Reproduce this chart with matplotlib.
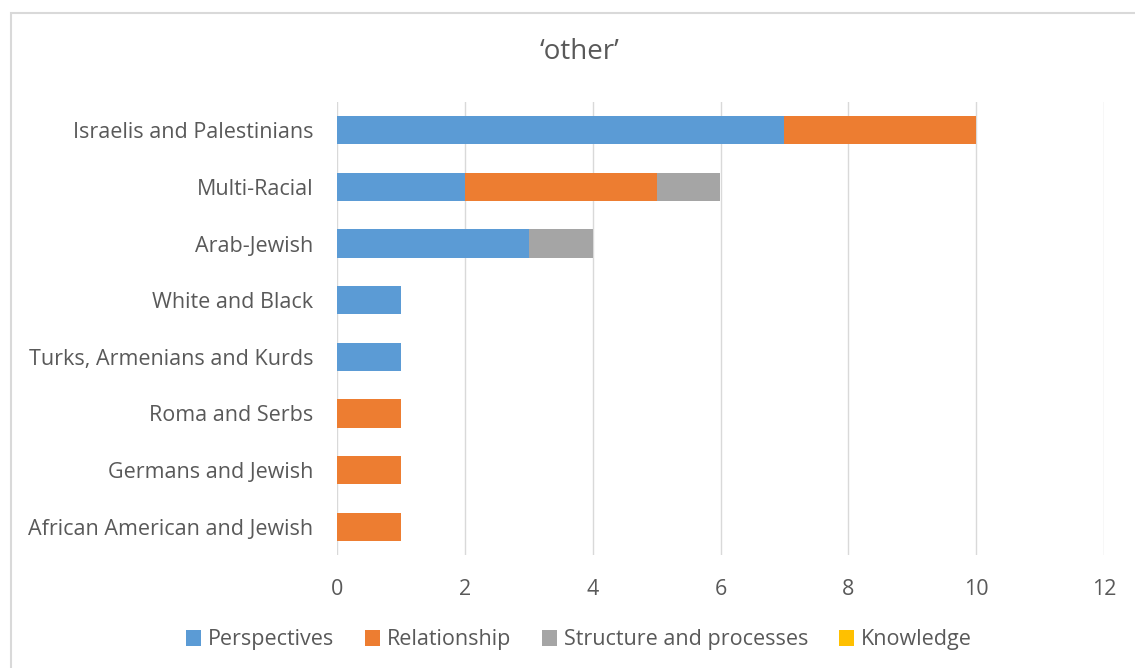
import numpy as np
import matplotlib
matplotlib.use('Agg')
import matplotlib.pyplot as plt
from matplotlib.patches import Rectangle

categories = ['Israelis and Palestinians', 'Multi-Racial', 'Arab-Jewish', 'White and Black',
              'Turks, Armenians and Kurds', 'Roma and Serbs', 'Germans and Jewish',
              'African American and Jewish']
perspectives = [7, 2, 3, 1, 1, 0, 0, 0]
relationship = [3, 3, 0, 0, 0, 1, 1, 1]
structure = [0, 1, 1, 0, 0, 0, 0, 0]
knowledge = [0, 0, 0, 0, 0, 0, 0, 0]

series = [('Perspectives', perspectives, '#5B9BD5'),
          ('Relationship', relationship, '#ED7D31'),
          ('Structure and processes', structure, '#A5A5A5'),
          ('Knowledge', knowledge, '#FFC000')]

plt.rcParams['font.family'] = ['Open Sans', 'DejaVu Sans']
txt = '#595959'

fig = plt.figure(figsize=(11.35, 6.68), dpi=100)
# light chart-area border
fig.patches.append(Rectangle((11/1135, -0.1), 1.2, 1 - 13/668 + 0.1, transform=fig.transFigure,
                             fill=False, edgecolor='#D9D9D9', linewidth=1.5))
ax = fig.add_axes([337/1135, 1 - 555/668, (1104 - 337)/1135, (555 - 102)/668])

y = np.arange(len(categories))
left = np.zeros(len(categories))
for name, vals, col in series:
    vals = np.array(vals, dtype=float)
    ax.barh(y, vals, left=left, height=0.5, color=col, label=name, zorder=3)
    left += vals

ax.set_ylim(len(categories) - 0.5, -0.5)
ax.set_xlim(0, 12)
ax.set_xticks(range(0, 13, 2))
ax.set_yticks(y)
ax.set_yticklabels(categories)
ax.grid(axis='x', color='#D9D9D9', linewidth=1, zorder=0)
for s in ax.spines.values():
    s.set_visible(False)
ax.tick_params(length=0, colors=txt, labelsize=15.5)
ax.tick_params(axis='y', pad=17)
ax.tick_params(axis='x', pad=17)

fig.text(580/1135, 1 - 52/668, '\u2018other\u2019', ha='center', va='center', fontsize=20, color=txt)
leg = fig.legend(loc='center', bbox_to_anchor=(579/1135, 1 - 640/668), ncol=4, frameon=False,
                 fontsize=15.5, handlelength=0.7, handleheight=0.7, handletextpad=0.3,
                 columnspacing=1.45)
for t in leg.get_texts():
    t.set_color(txt)

fig.savefig('out.png', dpi=100)
